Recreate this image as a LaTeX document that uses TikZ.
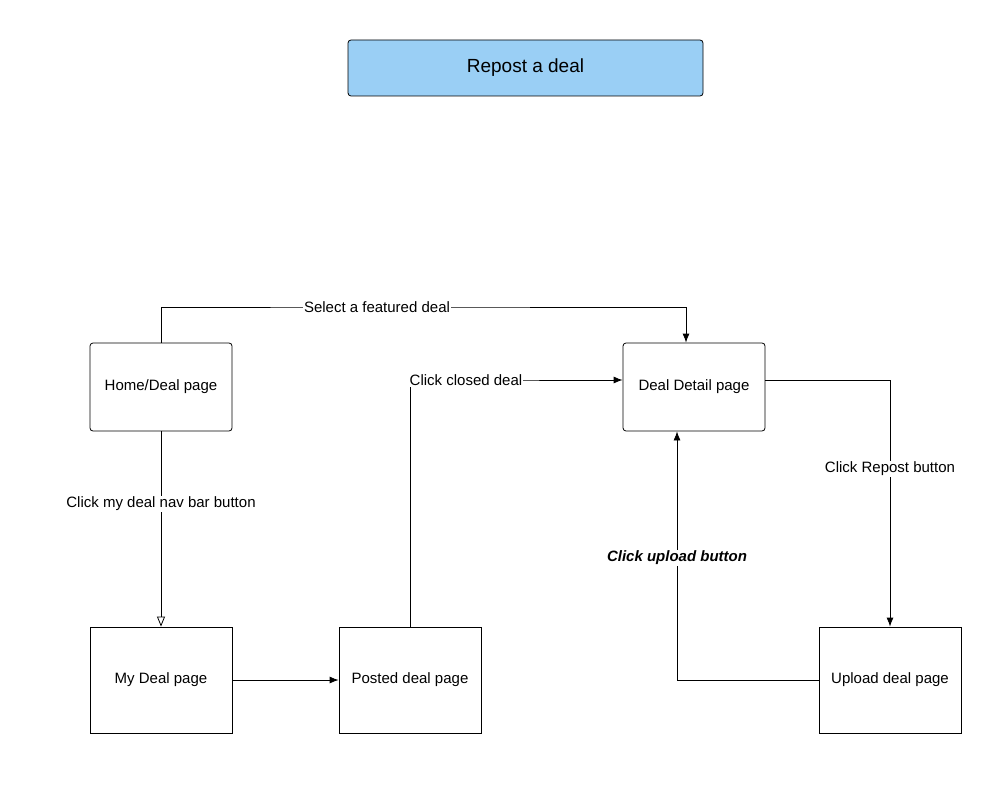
\documentclass[tikz,border=0pt]{standalone}
\usepackage{fontspec}
\setmainfont{Liberation Sans}
\usetikzlibrary{arrows.meta}
\definecolor{titleblue}{HTML}{9ACFF5}
\begin{document}
\begin{tikzpicture}[x=1pt,y=-1pt,
  box/.style={draw,thick,minimum width=142pt,font=\fontsize{15}{18}\selectfont},
  pagebox/.style={box,rounded corners=3pt,minimum height=88pt},
  sqbox/.style={box,minimum height=106pt},
  conn/.style={thick,-{Latex[length=9pt,width=7pt]}},
  lbl/.style={fill=white,inner sep=1pt,font=\fontsize{15}{18}\selectfont}]
\useasboundingbox (0,0) rectangle (1000,791);
\node[box,rounded corners=3pt,fill=titleblue,minimum width=355pt,minimum height=56pt,font=\fontsize{19}{22}\selectfont] (title) at (525.5,68) {Repost a deal};
\node[pagebox] (home) at (161,387) {Home/Deal page};
\node[pagebox] (detail) at (694,387) {Deal Detail page};
\node[sqbox] (my) at (161,680) {My Deal page};
\node[sqbox] (posted) at (410,680) {Posted deal page};
\node[sqbox] (upload) at (890,680) {Upload deal page};
\draw[conn] (home.north) |- (377,307) node[lbl]{Select a featured deal} -| (detail.north -| 686,0);
\draw[thick,-{Triangle[open,length=10pt,width=8pt]}] (home.south) -- node[lbl,pos=0.37]{Click my deal nav bar button} (my.north);
\draw[conn] (my.east) -- (posted.west);
\draw[conn] (posted.north) |- (466,380) node[lbl]{Click closed deal} -- (detail.west |- 0,380);
\draw[conn] (detail.east |- 0,380) -| (890,469) node[lbl]{Click Repost button} -- (upload.north);
\draw[conn] (upload.west) -| (677,558) node[lbl,font=\fontsize{15}{18}\selectfont\bfseries\itshape]{Click upload button} -- (detail.south -| 677,0);
\end{tikzpicture}
\end{document}
